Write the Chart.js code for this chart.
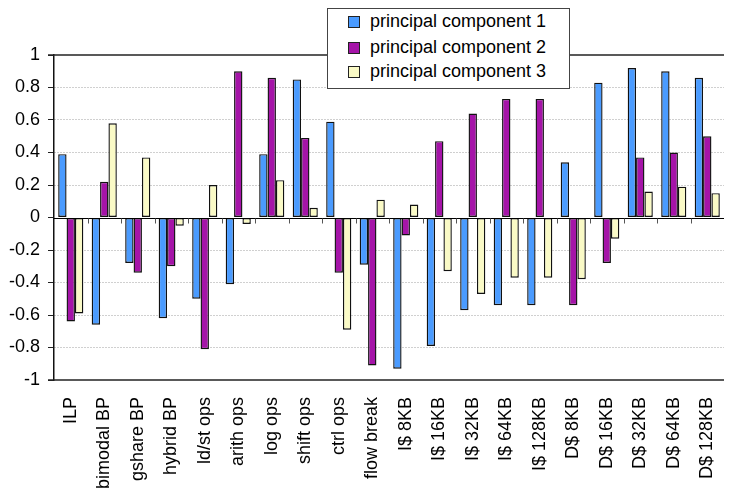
<!DOCTYPE html>
<html>
<head>
<meta charset="utf-8">
<title>Principal component loadings</title>
<script src="https://cdn.jsdelivr.net/npm/chart.js@4/dist/chart.umd.min.js"></script>
<style>
  html, body { margin: 0; padding: 0; background: #fff; overflow: hidden; }
  #wrap { position: relative; width: 746px; height: 491px; }
  #legend {
    position: absolute; left: 327px; top: 8px; width: 243px; height: 81px;
    background: #fff; border: 1px solid #444; box-sizing: border-box;
    font-family: "Liberation Sans", Arial, sans-serif; font-size: 18px; color: #000;
  }
  .item { position: absolute; left: 20px; height: 22px; line-height: 22px; white-space: nowrap; }
  .sw { display: inline-block; width: 10px; height: 10px; border: 1px solid #222; margin-right: 10px; vertical-align: -1px; }
</style>
</head>
<body>
<div id="wrap">
  <canvas id="chart" width="746" height="491"></canvas>
  <div id="legend"></div>
</div>
<script>
// Workload characteristics on the category axis
const categories = ['ILP', 'bimodal BP', 'gshare BP', 'hybrid BP', 'ld/st ops', 'arith ops',
  'log ops', 'shift ops', 'ctrl ops', 'flow break', 'I$ 8KB', 'I$ 16KB', 'I$ 32KB',
  'I$ 64KB', 'I$ 128KB', 'D$ 8KB', 'D$ 16KB', 'D$ 32KB', 'D$ 64KB', 'D$ 128KB'];

const seriesNames = ['principal component 1', 'principal component 2', 'principal component 3'];

// Loadings of each characteristic on the first three principal components
const pc1 = [0.39, -0.66, -0.28, -0.62, -0.50, -0.41, 0.39, 0.85, 0.59, -0.29,
  -0.93, -0.79, -0.57, -0.54, -0.54, 0.34, 0.83, 0.92, 0.90, 0.86];
const pc2 = [-0.64, 0.22, -0.34, -0.30, -0.81, 0.90, 0.86, 0.49, -0.34, -0.91,
  -0.11, 0.47, 0.64, 0.73, 0.73, -0.54, -0.28, 0.37, 0.40, 0.50];
const pc3 = [-0.59, 0.58, 0.37, -0.05, 0.20, -0.04, 0.23, 0.06, -0.69, 0.11,
  0.08, -0.33, -0.47, -0.37, -0.37, -0.38, -0.13, 0.16, 0.19, 0.15];

// Value axis ticks and their labels
const yTicks = [1, 0.8, 0.6, 0.4, 0.2, 0, -0.2, -0.4, -0.6, -0.8, -1];
const yTickLabels = ['1', '0.8', '0.6', '0.4', '0.2', '0', '-0.2', '-0.4', '-0.6', '-0.8', '-1'];

const colors = ['#4a9bff', '#a514a8', '#fafac6'];
const FONT = '"Liberation Sans", Arial, sans-serif';

// Legend box drawn over the upper part of the plot
const legendEl = document.getElementById('legend');
const rowTops = [1, 27, 51];
seriesNames.forEach((name, i) => {
  const row = document.createElement('div');
  row.className = 'item';
  row.style.top = rowTops[i] + 'px';
  const sw = document.createElement('span');
  sw.className = 'sw';
  sw.style.background = colors[i];
  row.appendChild(sw);
  row.appendChild(document.createTextNode(name));
  legendEl.appendChild(row);
});

// Frame lines, zero line and category tick marks on the zero line
const framePlugin = {
  id: 'frame',
  afterDatasetsDraw(chart) {
    const { ctx, chartArea: a, scales: { x, y } } = chart;
    ctx.save();
    ctx.strokeStyle = '#222';
    ctx.lineWidth = 1.5;
    [y.getPixelForValue(1), y.getPixelForValue(-1)].forEach(py => {
      ctx.beginPath();
      ctx.moveTo(a.left - 6, py);
      ctx.lineTo(a.right, py);
      ctx.stroke();
    });
    const y0 = Math.round(y.getPixelForValue(0)) + 0.5;
    ctx.strokeStyle = '#000';
    ctx.lineWidth = 1;
    ctx.beginPath();
    ctx.moveTo(a.left, y0);
    ctx.lineTo(a.right, y0);
    ctx.stroke();
    ctx.strokeStyle = '#555';
    for (let i = 1; i < categories.length; i++) {
      const px = Math.round((x.getPixelForValue(i - 1) + x.getPixelForValue(i)) / 2) + 0.5;
      ctx.beginPath();
      ctx.moveTo(px, y0);
      ctx.lineTo(px, y0 + 5);
      ctx.stroke();
    }
    ctx.restore();
  }
};

new Chart(document.getElementById('chart'), {
  type: 'bar',
  data: {
    labels: categories,
    datasets: [pc1, pc2, pc3].map((vals, i) => ({
      label: seriesNames[i],
      data: vals,
      backgroundColor: colors[i],
      borderColor: '#111',
      borderWidth: 1.4,
      borderSkipped: false
    }))
  },
  options: {
    responsive: false,
    animation: false,
    devicePixelRatio: 1,
    layout: { padding: { top: 55, right: 6, bottom: 0, left: 0 } },
    datasets: { bar: { categoryPercentage: 0.75, barPercentage: 1.0 } },
    plugins: { legend: { display: false }, tooltip: { enabled: false } },
    scales: {
      x: {
        grid: { display: false, drawTicks: false },
        border: { display: false },
        ticks: {
          autoSkip: false, minRotation: 90, maxRotation: 90, padding: 17,
          color: '#000', font: { family: FONT, size: 18 }
        },
        afterFit(scale) { scale.height = 111; }
      },
      y: {
        min: -1, max: 1,
        afterBuildTicks(scale) { scale.ticks = yTicks.map(v => ({ value: v })); },
        ticks: {
          padding: 8, color: '#000', font: { family: FONT, size: 18 },
          callback: (v) => yTickLabels[yTicks.indexOf(v)]
        },
        grid: {
          drawTicks: true,
          tickLength: 6,
          tickColor: '#222',
          tickWidth: 1,
          color: (c) => (c.tick && (Math.abs(c.tick.value) > 0.99 || c.tick.value === 0)) ? 'rgba(0,0,0,0)' : '#a0a0a0',
          lineWidth: 1
        },
        border: { display: true, color: '#111', width: 1.5, dash: [1, 2] },
        afterFit(scale) { scale.width = 54; }
      }
    }
  },
  plugins: [framePlugin]
});
</script>
</body>
</html>
